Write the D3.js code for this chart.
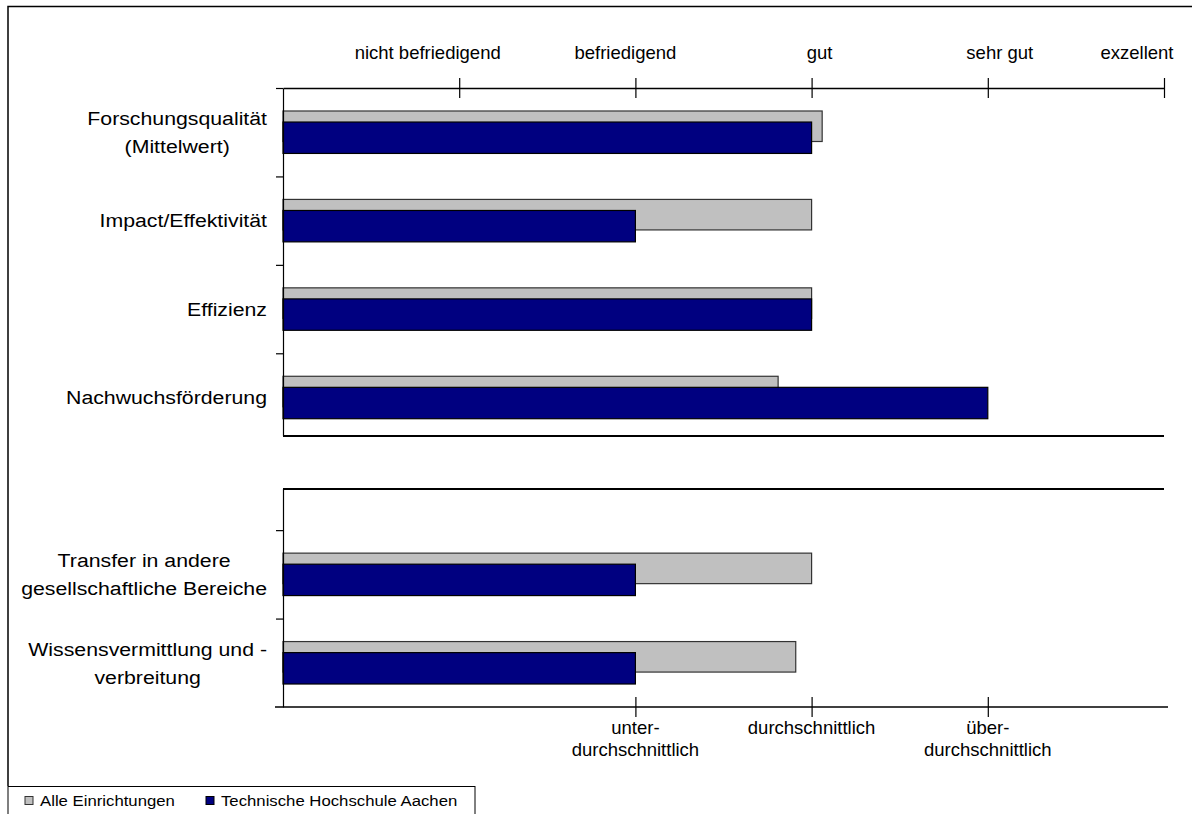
<!DOCTYPE html>
<html>
<head>
<meta charset="utf-8">
<script src="https://cdn.jsdelivr.net/npm/d3@7"></script>
<style>
  html, body { margin: 0; padding: 0; background: #fff; }
  svg { display: block; font-family: "Liberation Sans", Arial, sans-serif; }
</style>
</head>
<body>
<svg id="chart" width="1192" height="814"></svg>
<script>
// ---------- data ----------
const categoryLines = [
  ["Forschungsqualität", "(Mittelwert)"],
  ["Impact/Effektivität"],
  ["Effizienz"],
  ["Nachwuchsförderung"],
  [],
  ["Transfer in andere", "gesellschaftliche Bereiche"],
  ["Wissensvermittlung und -", "verbreitung"]
];
const seriesNames = ["Alle Einrichtungen", "Technische Hochschule Aachen"];
const alleEinrichtungen = [3.06, 3.0, 3.0, 2.81, null, 3.0, 2.91];
const thAachen = [3.0, 2.0, 3.0, 4.0, null, 2.0, 2.0];
const topTickValues = [1, 2, 3, 4, 5];
const topTickLabels = ["nicht befriedigend", "befriedigend", "gut", "sehr gut", "exzellent"];
const bottomTickValues = [2, 3, 4];
const bottomTickLabels = [["unter-", "durchschnittlich"], ["durchschnittlich"], ["über-", "durchschnittlich"]];

// ---------- layout ----------
const svg = d3.select("#chart");
const colors = ["#C0C0C0", "#000080"];
const strokes = ["#333333", "#000000"];
const xLeft = 283, xRight = 1164, yTop = 88, yBottom = 707;
const gapTop = 436, gapBottom = 489;

const x = d3.scaleLinear().domain([0, 5]).range([xLeft, xRight]);
const y = d3.scaleBand().domain(d3.range(categoryLines.length)).range([yTop, yBottom]);
const yLin = d3.scaleLinear().domain([0, categoryLines.length]).range([yTop, yBottom]);
const bw = y.bandwidth();

// outer frame
svg.append("path").attr("d", `M8,786 L8,6.5 L1192,6.5`).attr("fill", "none")
  .attr("stroke", "#000").attr("stroke-width", 1.5);

// bars
const series = [alleEinrichtungen, thAachen];
const barOffsets = [[-0.24, 0.345], [-0.115, 0.355]];
series.forEach((vals, s) => {
  svg.append("g").selectAll("rect")
    .data(vals.map((v, i) => ({ v, i })).filter(d => d.v != null))
    .join("rect")
    .attr("x", x(0))
    .attr("width", d => x(d.v) - x(0))
    .attr("y", d => y(d.i) + bw / 2 + barOffsets[s][0] * bw)
    .attr("height", barOffsets[s][1] * bw)
    .attr("fill", colors[s])
    .attr("stroke", strokes[s])
    .attr("stroke-width", 1.2);
});

// left axis (ticks at band boundaries)
const yAxisG = svg.append("g").attr("transform", `translate(${xLeft},0)`)
  .call(d3.axisLeft(yLin).tickValues([0, 1, 2, 3, 5, 6]).tickSize(7).tickSizeOuter(0).tickFormat(""));
yAxisG.selectAll("path, line").attr("stroke", "#000").attr("stroke-width", 1.2);

// gap between panels
svg.append("rect").attr("x", xLeft - 10).attr("y", gapTop).attr("width", xRight - xLeft + 20)
  .attr("height", gapBottom - gapTop).attr("fill", "#fff");
[gapTop, gapBottom].forEach(gy => {
  svg.append("line").attr("x1", xLeft).attr("x2", xRight).attr("y1", gy).attr("y2", gy)
    .attr("stroke", "#000").attr("stroke-width", 2);
});

// top axis
const topAxis = svg.append("g").attr("transform", `translate(0,${yTop})`)
  .call(d3.axisTop(x).tickValues(topTickValues).tickSizeOuter(0).tickFormat(""));
topAxis.select(".domain").attr("stroke", "#000").attr("stroke-width", 1.5);
topAxis.selectAll(".tick line").attr("y1", -10).attr("y2", 10).attr("stroke", "#000").attr("stroke-width", 1.2);
const topLabelShift = [-31.5, -10, 8, 12, -27];
svg.append("g").selectAll("text").data(topTickLabels).join("text")
  .attr("x", (d, i) => x(topTickValues[i]) + topLabelShift[i])
  .attr("y", 58.5)
  .attr("text-anchor", "middle")
  .attr("font-size", 18.5)
  .attr("fill", "#000")
  .text(d => d);

// bottom axis
svg.append("line").attr("x1", 275).attr("x2", 1168).attr("y1", yBottom).attr("y2", yBottom)
  .attr("stroke", "#000").attr("stroke-width", 1.5);
const botAxis = svg.append("g").attr("transform", `translate(0,${yBottom})`)
  .call(d3.axisBottom(x).tickValues(bottomTickValues).tickSizeOuter(0).tickFormat(""));
botAxis.select(".domain").remove();
botAxis.selectAll(".tick line").attr("y1", -10).attr("y2", 10).attr("stroke", "#000").attr("stroke-width", 1.2);
bottomTickLabels.forEach((lines, i) => {
  const t = svg.append("text").attr("text-anchor", "middle").attr("font-size", 18.5).attr("fill", "#000");
  lines.forEach((ln, j) => {
    t.append("tspan").attr("x", x(bottomTickValues[i])).attr("y", 734 + j * 21.5).text(ln);
  });
});

// category labels
const labelRight = 267, labelScale = 1.12, lineGap = 28;
categoryLines.forEach((lines, i) => {
  if (!lines.length) return;
  const cy = y(i) + bw / 2;
  const g = svg.append("g").attr("transform", `translate(${labelRight},0) scale(${labelScale},1)`);
  const texts = lines.map(ln => g.append("text").attr("font-size", 19).attr("fill", "#000").text(ln));
  const maxW = d3.max(texts, t => t.node().getComputedTextLength());
  const b1 = lines.length === 1 ? cy + 6.8 : cy - 7.2;
  texts.forEach((t, j) => t.attr("x", -maxW / 2).attr("text-anchor", "middle").attr("y", b1 + j * lineGap));
});

// legend
const lg = svg.append("g");
lg.append("rect").attr("x", 8).attr("y", 786.5).attr("width", 467).attr("height", 40)
  .attr("fill", "#fff").attr("stroke", "#000").attr("stroke-width", 1);
const legendX = [25, 206];
seriesNames.forEach((name, s) => {
  lg.append("rect").attr("x", legendX[s]).attr("y", 796.5).attr("width", 8).attr("height", 8)
    .attr("fill", colors[s]).attr("stroke", strokes[s]).attr("stroke-width", 1);
  lg.append("g").attr("transform", `translate(${legendX[s] + 15},806) scale(1.08,1)`)
    .append("text").attr("font-size", 15.5).attr("fill", "#000").text(name);
});
</script>
</body>
</html>
